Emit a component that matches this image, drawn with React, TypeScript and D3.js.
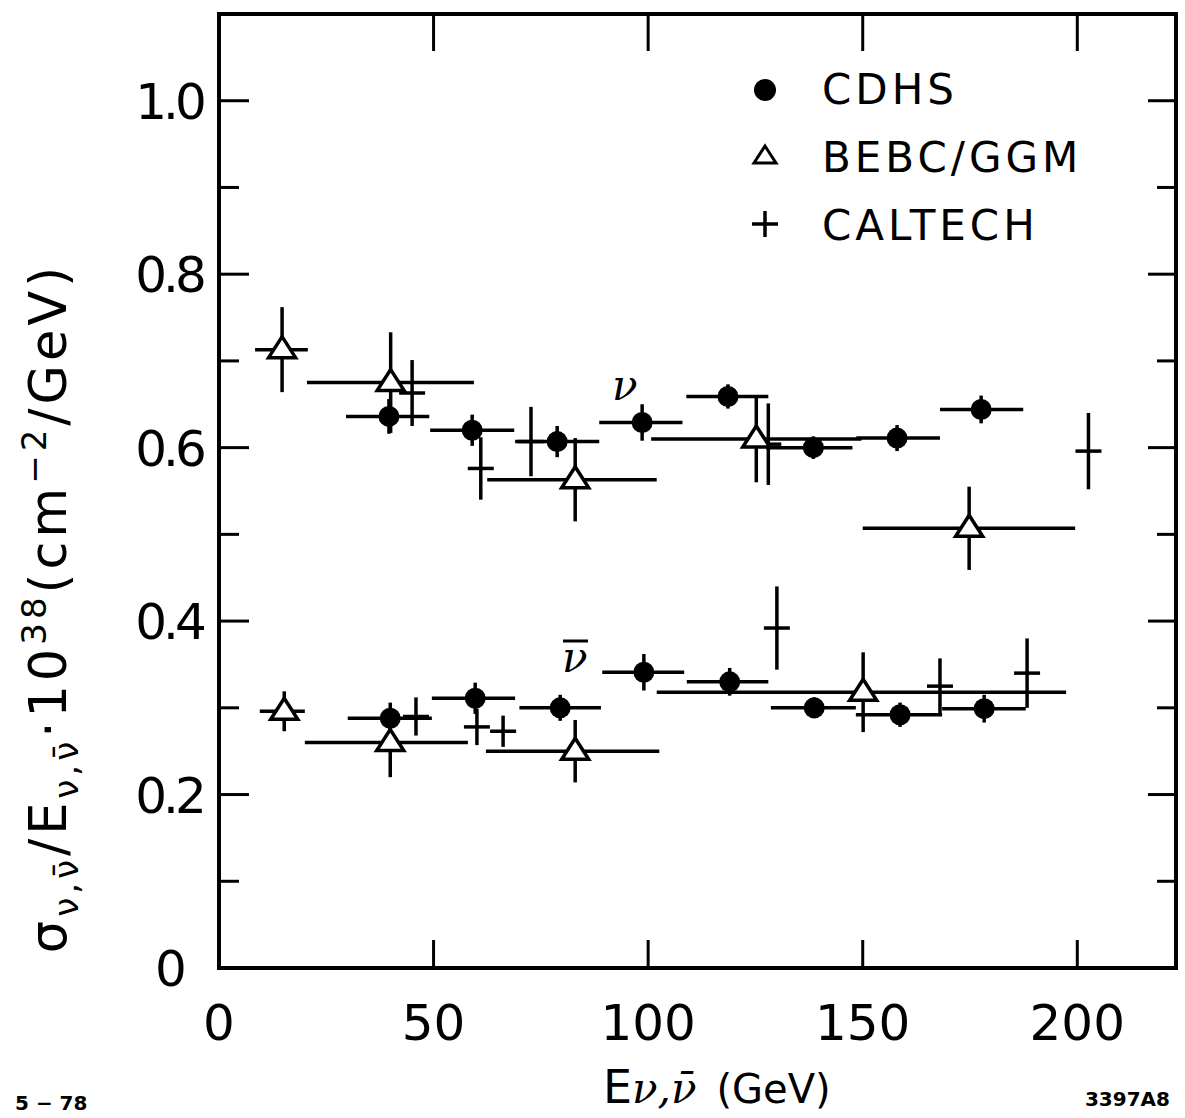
import React from 'react';
import * as d3 from 'd3';

// CDHS (filled circles), neutrino
const cdhsNuE = [39.6, 59, 78.8, 98.6, 118.6, 138.5, 158, 177.6];
const cdhsNuVal = [0.636, 0.62, 0.607, 0.629, 0.659, 0.6, 0.611, 0.644];
const cdhsNuErr = [0.02, 0.018, 0.018, 0.021, 0.014, 0.013, 0.015, 0.016];
const cdhsNuLo = [29.6, 49.2, 69, 88.6, 108.9, 127.5, 148.5, 168];
const cdhsNuHi = [49, 68.8, 88.6, 108, 128, 147.6, 168, 187.4];

// CDHS, antineutrino
const cdhsBarE = [39.9, 59.7, 79.5, 99, 119, 138.7, 158.7, 178.3];
const cdhsBarVal = [0.288, 0.311, 0.3, 0.341, 0.33, 0.3, 0.292, 0.299];
const cdhsBarErr = [0.018, 0.018, 0.015, 0.021, 0.016, 0.012, 0.014, 0.016];
const cdhsBarLo = [30, 49.6, 70, 89.3, 109, 128.6, 148.4, 168.5];
const cdhsBarHi = [49.6, 69, 89, 108.4, 128, 148.4, 168.5, 188];

// BEBC/GGM (open triangles)
const bebcNuE = [14.7, 40, 83, 125.2, 174.8];
const bebcNuVal = [0.713, 0.675, 0.563, 0.61, 0.507];
const bebcNuErr = [0.049, 0.058, 0.048, 0.05, 0.048];
const bebcNuLo = [8.4, 20.5, 62.5, 100.7, 150];
const bebcNuHi = [20.7, 59.4, 102, 149.7, 199.5];

const bebcBarE = [15.2, 39.9, 83, 150.1];
const bebcBarVal = [0.296, 0.26, 0.25, 0.318];
const bebcBarErr = [0.023, 0.04, 0.036, 0.046];
const bebcBarLo = [9.5, 20, 62.2, 102];
const bebcBarHi = [20, 58, 102.6, 197.4];

// CALTECH (crosses)
const calNuE = [45, 61, 72.7, 128, 202.6];
const calNuVal = [0.663, 0.576, 0.607, 0.604, 0.596];
const calNuErr = [0.038, 0.036, 0.04, 0.047, 0.044];

const calBarE = [45.9, 60.1, 66.2, 130, 168, 188.3];
const calBarVal = [0.29, 0.278, 0.273, 0.392, 0.325, 0.34];
const calBarErr = [0.022, 0.021, 0.018, 0.048, 0.032, 0.04];

const xTicks = [0, 50, 100, 150, 200];
const yTicks = [0, 0.2, 0.4, 0.6, 0.8, 1.0];
const yMinor = [0.1, 0.3, 0.5, 0.7, 0.9];

const legendNames = ['CDHS', 'BEBC/GGM', 'CALTECH'];

const x = d3.scaleLinear().domain([0, 223]).range([219, 1176]);
const y = d3.scaleLinear().domain([0, 1.1]).range([968, 14]);

const SW = 3.5;
const sans = '"DejaVu Sans", sans-serif';
const serif = '"DejaVu Serif", serif';

const triPath = 'M0,-13L13.5,8L-13.5,8Z';

function zipBins(e: number[], v: number[], err: number[], lo?: number[], hi?: number[]) {
  return e.map((d, i) => ({ e: d, v: v[i], err: err[i], lo: lo ? lo[i] : null, hi: hi ? hi[i] : null }));
}

const cdhs = [...zipBins(cdhsNuE, cdhsNuVal, cdhsNuErr, cdhsNuLo, cdhsNuHi), ...zipBins(cdhsBarE, cdhsBarVal, cdhsBarErr, cdhsBarLo, cdhsBarHi)];
const bebc = [...zipBins(bebcNuE, bebcNuVal, bebcNuErr, bebcNuLo, bebcNuHi), ...zipBins(bebcBarE, bebcBarVal, bebcBarErr, bebcBarLo, bebcBarHi)];
const cal = [...zipBins(calNuE, calNuVal, calNuErr), ...zipBins(calBarE, calBarVal, calBarErr)];

export default function App() {
  const x0 = x.range()[0], x1 = x.range()[1];
  const y0 = y.range()[0], y1 = y.range()[1];
  return (
    <svg width={1185} height={1118} style={{ position: 'absolute', left: 0, top: 0, background: '#fff' }}>
      <rect x={0} y={0} width={1185} height={1118} fill="#fff" />
      {/* frame */}
      <rect x={x0} y={y1} width={x1 - x0} height={y0 - y1} fill="none" stroke="#000" strokeWidth={4} />
      {/* x ticks */}
      {xTicks.filter(t => t > 0).map(t => (
        <g key={'xt' + t}>
          <line x1={x(t)} x2={x(t)} y1={y0} y2={y0 - 28} stroke="#000" strokeWidth={3} />
          <line x1={x(t)} x2={x(t)} y1={y1} y2={y1 + 37} stroke="#000" strokeWidth={3} />
        </g>
      ))}
      {xTicks.map(t => (
        <text key={'xl' + t} x={x(t)} y={1040} textAnchor="middle" fontFamily={sans} fontSize={50} fill="#000">{t}</text>
      ))}
      {/* y ticks */}
      {yTicks.filter(t => t > 0).map(t => (
        <g key={'yt' + t}>
          <line x1={x0} x2={x0 + 30} y1={y(t)} y2={y(t)} stroke="#000" strokeWidth={3} />
          <line x1={x1} x2={x1 - 28} y1={y(t)} y2={y(t)} stroke="#000" strokeWidth={3} />
        </g>
      ))}
      {yMinor.map(t => (
        <g key={'ym' + t}>
          <line x1={x0} x2={x0 + 20} y1={y(t)} y2={y(t)} stroke="#000" strokeWidth={3} />
          <line x1={x1} x2={x1 - 19} y1={y(t)} y2={y(t)} stroke="#000" strokeWidth={3} />
        </g>
      ))}
      {yTicks.map(t => (
        <text key={'yl' + t} x={169} y={y(t) + 18} textAnchor="middle" fontFamily={sans} fontSize={50} letterSpacing={-4} fill="#000">{t === 0 ? '0' : t.toFixed(1)}</text>
      ))}

      {/* error bars */}
      <g stroke="#000" strokeWidth={SW} fill="none">
        {[...cdhs, ...bebc].map((d, i) => (
          <g key={'eb' + i}>
            <line x1={x(d.lo as number)} x2={x(d.hi as number)} y1={y(d.v)} y2={y(d.v)} />
            <line x1={x(d.e)} x2={x(d.e)} y1={y(d.v - d.err)} y2={y(d.v + d.err)} />
          </g>
        ))}
        {cal.map((d, i) => (
          <g key={'cal' + i}>
            <line x1={x(d.e) - 13} x2={x(d.e) + 13} y1={y(d.v)} y2={y(d.v)} />
            <line x1={x(d.e)} x2={x(d.e)} y1={y(d.v - d.err)} y2={y(d.v + d.err)} />
          </g>
        ))}
      </g>
      {/* markers */}
      {cdhs.map((d, i) => (
        <circle key={'c' + i} cx={x(d.e)} cy={y(d.v)} r={10.5} fill="#000" />
      ))}
      {bebc.map((d, i) => (
        <path key={'t' + i} d={triPath} transform={`translate(${x(d.e)},${y(d.v)})`} fill="#fff" stroke="#000" strokeWidth={SW} />
      ))}

      {/* annotations */}
      <text x={612} y={400} fontFamily={serif} fontStyle="italic" fontSize={42} fill="#000">ν</text>
      <text x={562} y={672} fontFamily={serif} fontStyle="italic" fontSize={42} fill="#000">ν</text>
      <line x1={563} x2={588} y1={641} y2={641} stroke="#000" strokeWidth={3} />

      {/* legend */}
      <circle cx={765} cy={90} r={11} fill="#000" />
      <path d="M0,-9L11,8L-11,8Z" transform="translate(765,155)" fill="#fff" stroke="#000" strokeWidth={3} />
      <line x1={752} x2={778} y1={224} y2={224} stroke="#000" strokeWidth={3.5} />
      <line x1={765} x2={765} y1={211} y2={237} stroke="#000" strokeWidth={3.5} />
      {legendNames.map((n, i) => (
        <text key={n} x={822} y={104 + i * 68} fontFamily={sans} fontSize={42} letterSpacing={4} fill="#000">{n}</text>
      ))}

      {/* axis titles */}
      <text x={603} y={1103} fontFamily={sans} fontSize={46} fill="#000">
        <tspan>E</tspan>
        <tspan fontFamily={serif} fontStyle="italic" fontSize={42}>ν,ν̄</tspan>
        <tspan dx={20} fontSize={40}>(GeV)</tspan>
      </text>
      <text transform="translate(66,608) rotate(-90)" textAnchor="middle" fontFamily={sans} fontSize={51} letterSpacing={4} fill="#000">
        <tspan>σ</tspan>
        <tspan fontSize={34} dy={12}>ν,ν̄</tspan>
        <tspan dy={-12}>/E</tspan>
        <tspan fontSize={34} dy={12}>ν,ν̄</tspan>
        <tspan dy={-12}>·10</tspan>
        <tspan fontSize={34} dy={-20}>38</tspan>
        <tspan dy={20}>(cm</tspan>
        <tspan fontSize={34} dy={-20}>−2</tspan>
        <tspan dy={20}>/GeV)</tspan>
      </text>

      <text x={15} y={1110} fontFamily={sans} fontWeight="bold" fontSize={20} fill="#000">5 − 78</text>
      <text x={1170} y={1106} textAnchor="end" fontFamily={sans} fontWeight="bold" fontSize={20} fill="#000">3397A8</text>
    </svg>
  );
}
